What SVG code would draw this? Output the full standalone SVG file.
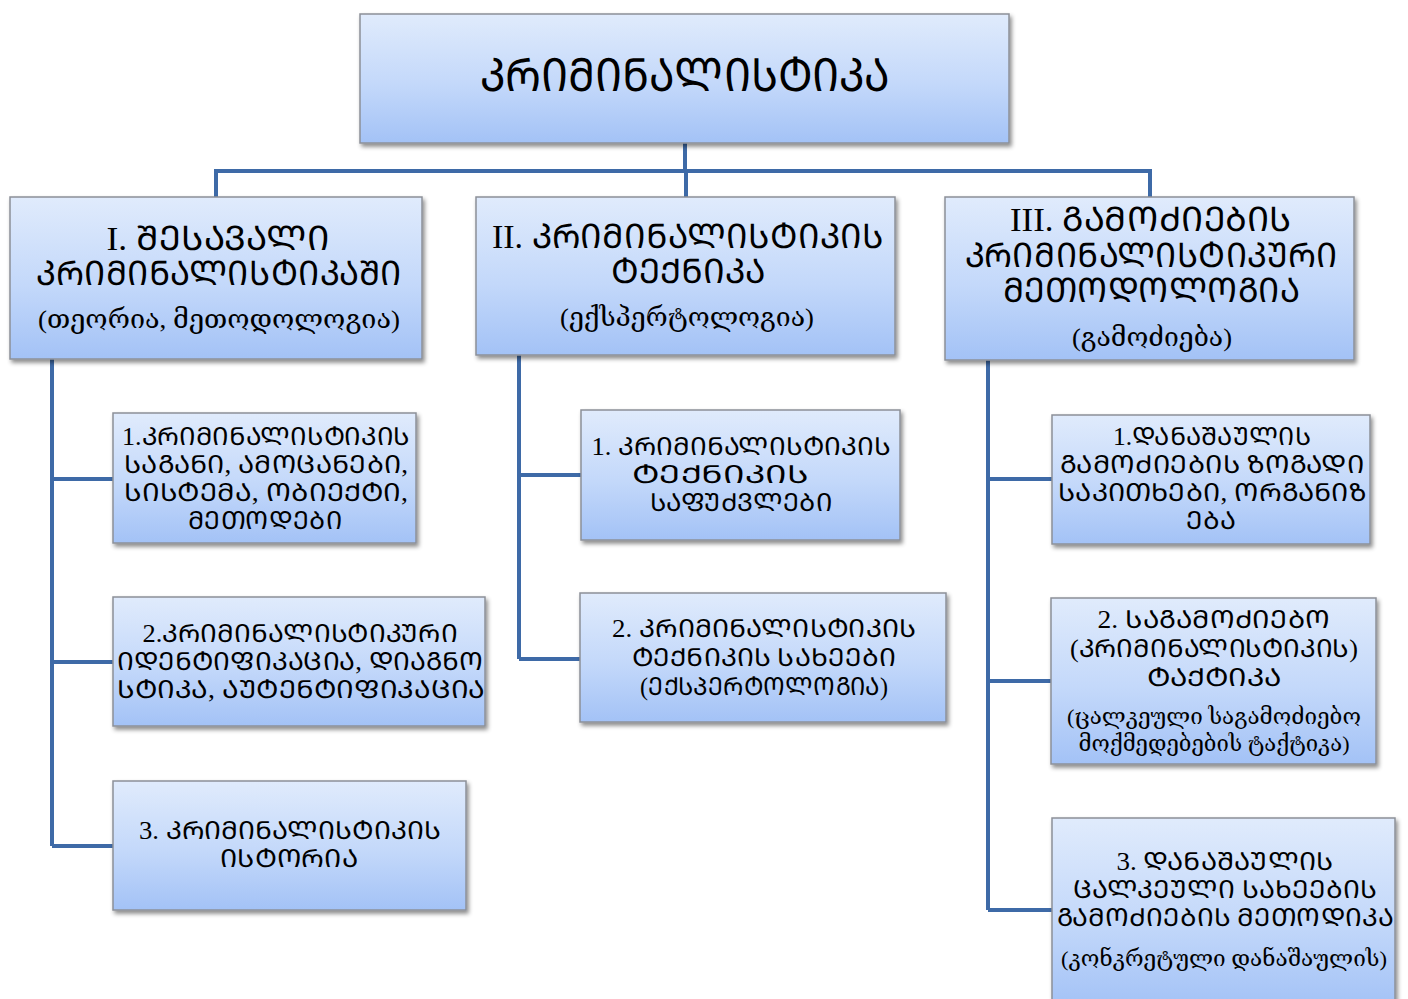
<svg xmlns="http://www.w3.org/2000/svg" width="1408" height="999" viewBox="0 0 1408 999">
<defs>
<linearGradient id="g" x1="0" y1="0" x2="0" y2="1">
<stop offset="0" stop-color="#e0ebfc"/>
<stop offset="0.55" stop-color="#c3d8fa"/>
<stop offset="1" stop-color="#a3c2f6"/>
</linearGradient>
<filter id="sh" x="-5%" y="-5%" width="112%" height="115%">
<feDropShadow dx="2" dy="3" stdDeviation="2" flood-color="#000" flood-opacity="0.45"/>
</filter>
</defs>
<style>
.box{fill:url(#g);stroke:#8c9098;stroke-width:1.5;filter:url(#sh)}
.c{fill:none;stroke:#3e6aa7;stroke-width:4}
text{font-family:"Liberation Serif","DejaVu Serif","DejaVu Sans",serif;fill:#000;text-anchor:middle}
.t0{font-size:46px}
.h{font-size:34px}
.s{font-size:26px}
.n{font-size:25px}
.m{font-size:22px}
</style>
<rect width="1408" height="999" fill="#fff"/>
<g id="connectors">
<path class="c" d="M685 143V171M216 197V171H1150V197M686 171V197"/>
<path class="c" d="M52 359V846M52 479H113M52 662H113M52 846H113"/>
<path class="c" d="M519 355V659M519 475H581M519 659H580"/>
<path class="c" d="M988 360V910M988 479H1052M988 681H1051M988 910H1052"/>
</g>
<g id="root">
<rect class="box" x="360" y="14" width="649" height="129"/>
<text class="t0" x="685" y="91" textLength="410" lengthAdjust="spacingAndGlyphs">ᲙᲠᲘᲛᲘᲜᲐᲚᲘᲡᲢᲘᲙᲐ</text>
</g>
<g id="n1">
<rect class="box" x="10" y="197" width="412" height="162"/>
<text class="h" x="218" y="250" textLength="223" lengthAdjust="spacingAndGlyphs">I. ᲨᲔᲡᲐᲕᲐᲚᲘ</text>
<text class="h" x="219" y="285" textLength="366" lengthAdjust="spacingAndGlyphs">ᲙᲠᲘᲛᲘᲜᲐᲚᲘᲡᲢᲘᲙᲐᲨᲘ</text>
<text class="s" x="219" y="328" textLength="362" lengthAdjust="spacingAndGlyphs">(თეორია, მეთოდოლოგია)</text>
</g>
<g id="n2">
<rect class="box" x="476" y="197" width="419" height="158"/>
<text class="h" x="688" y="248" textLength="392" lengthAdjust="spacingAndGlyphs">II. ᲙᲠᲘᲛᲘᲜᲐᲚᲘᲡᲢᲘᲙᲘᲡ</text>
<text class="h" x="688" y="283" textLength="155" lengthAdjust="spacingAndGlyphs">ᲢᲔᲥᲜᲘᲙᲐ</text>
<text class="s" x="687" y="326" textLength="254" lengthAdjust="spacingAndGlyphs">(ექსპერტოლოგია)</text>
</g>
<g id="n3">
<rect class="box" x="945" y="197" width="409" height="163"/>
<text class="h" x="1151" y="231" textLength="282" lengthAdjust="spacingAndGlyphs">III. ᲒᲐᲛᲝᲫᲘᲔᲑᲘᲡ</text>
<text class="h" x="1151" y="267" textLength="373" lengthAdjust="spacingAndGlyphs">ᲙᲠᲘᲛᲘᲜᲐᲚᲘᲡᲢᲘᲙᲣᲠᲘ</text>
<text class="h" x="1151" y="302" textLength="297" lengthAdjust="spacingAndGlyphs">ᲛᲔᲗᲝᲓᲝᲚᲝᲒᲘᲐ</text>
<text class="s" x="1152" y="346" textLength="160" lengthAdjust="spacingAndGlyphs">(გამოძიება)</text>
</g>
<g id="n1a">
<rect class="box" x="113" y="413" width="303" height="130"/>
<text class="n" x="266" y="445" textLength="288" lengthAdjust="spacingAndGlyphs">1.ᲙᲠᲘᲛᲘᲜᲐᲚᲘᲡᲢᲘᲙᲘᲡ</text>
<text class="n" x="266" y="473" textLength="284" lengthAdjust="spacingAndGlyphs">ᲡᲐᲒᲐᲜᲘ, ᲐᲛᲝᲪᲐᲜᲔᲑᲘ,</text>
<text class="n" x="266" y="501" textLength="284" lengthAdjust="spacingAndGlyphs">ᲡᲘᲡᲢᲔᲛᲐ, ᲝᲑᲘᲔᲥᲢᲘ,</text>
<text class="n" x="265" y="529" textLength="154" lengthAdjust="spacingAndGlyphs">ᲛᲔᲗᲝᲓᲔᲑᲘ</text>
</g>
<g id="n1b">
<rect class="box" x="113" y="597" width="372" height="129"/>
<text class="n" x="300" y="642" textLength="315" lengthAdjust="spacingAndGlyphs">2.ᲙᲠᲘᲛᲘᲜᲐᲚᲘᲡᲢᲘᲙᲣᲠᲘ</text>
<text class="n" x="300" y="670" textLength="366" lengthAdjust="spacingAndGlyphs">ᲘᲓᲔᲜᲢᲘᲤᲘᲙᲐᲪᲘᲐ, ᲓᲘᲐᲒᲜᲝ</text>
<text class="n" x="301" y="698" textLength="368" lengthAdjust="spacingAndGlyphs">ᲡᲢᲘᲙᲐ, ᲐᲣᲢᲔᲜᲢᲘᲤᲘᲙᲐᲪᲘᲐ</text>
</g>
<g id="n1c">
<rect class="box" x="113" y="781" width="353" height="129"/>
<text class="n" x="290" y="839" textLength="302" lengthAdjust="spacingAndGlyphs">3. ᲙᲠᲘᲛᲘᲜᲐᲚᲘᲡᲢᲘᲙᲘᲡ</text>
<text class="n" x="289" y="867" textLength="138" lengthAdjust="spacingAndGlyphs">ᲘᲡᲢᲝᲠᲘᲐ</text>
</g>
<g id="n2a">
<rect class="box" x="581" y="410" width="319" height="130"/>
<text class="n" x="741" y="455" textLength="299" lengthAdjust="spacingAndGlyphs">1. ᲙᲠᲘᲛᲘᲜᲐᲚᲘᲡᲢᲘᲙᲘᲡ</text>
<text class="n" x="720" y="483" textLength="177" lengthAdjust="spacingAndGlyphs">ᲢᲔᲥᲜᲘᲙᲘᲡ</text>
<text class="n" x="741" y="511" textLength="183" lengthAdjust="spacingAndGlyphs">ᲡᲐᲤᲣᲫᲕᲚᲔᲑᲘ</text>
</g>
<g id="n2b">
<rect class="box" x="580" y="593" width="366" height="129"/>
<text class="n" x="764" y="637" textLength="304" lengthAdjust="spacingAndGlyphs">2. ᲙᲠᲘᲛᲘᲜᲐᲚᲘᲡᲢᲘᲙᲘᲡ</text>
<text class="n" x="764" y="666" textLength="264" lengthAdjust="spacingAndGlyphs">ᲢᲔᲥᲜᲘᲙᲘᲡ ᲡᲐᲮᲔᲔᲑᲘ</text>
<text class="n" x="764" y="695" textLength="248" lengthAdjust="spacingAndGlyphs">(ᲔᲥᲡᲞᲔᲠᲢᲝᲚᲝᲒᲘᲐ)</text>
</g>
<g id="n3a">
<rect class="box" x="1052" y="415" width="318" height="129"/>
<text class="n" x="1212" y="445" textLength="198" lengthAdjust="spacingAndGlyphs">1.ᲓᲐᲜᲐᲨᲐᲣᲚᲘᲡ</text>
<text class="n" x="1212" y="473" textLength="304" lengthAdjust="spacingAndGlyphs">ᲒᲐᲛᲝᲫᲘᲔᲑᲘᲡ ᲖᲝᲒᲐᲓᲘ</text>
<text class="n" x="1212" y="501" textLength="308" lengthAdjust="spacingAndGlyphs">ᲡᲐᲙᲘᲗᲮᲔᲑᲘ, ᲝᲠᲒᲐᲜᲘᲖ</text>
<text class="n" x="1211" y="529" textLength="50" lengthAdjust="spacingAndGlyphs">ᲔᲑᲐ</text>
</g>
<g id="n3b">
<rect class="box" x="1051" y="598" width="325" height="166"/>
<text class="n" x="1214" y="628" textLength="233" lengthAdjust="spacingAndGlyphs">2. ᲡᲐᲒᲐᲛᲝᲫᲘᲔᲑᲝ</text>
<text class="n" x="1214" y="657" textLength="288" lengthAdjust="spacingAndGlyphs">(ᲙᲠᲘᲛᲘᲜᲐᲚᲘᲡᲢᲘᲙᲘᲡ)</text>
<text class="n" x="1214" y="686" textLength="135" lengthAdjust="spacingAndGlyphs">ᲢᲐᲥᲢᲘᲙᲐ</text>
<text class="m" x="1214" y="724" textLength="294" lengthAdjust="spacingAndGlyphs">(ცალკეული საგამოძიებო</text>
<text class="m" x="1214" y="751" textLength="271" lengthAdjust="spacingAndGlyphs">მოქმედებების ტაქტიკა)</text>
</g>
<g id="n3c">
<rect class="box" x="1052" y="818" width="343" height="190"/>
<text class="n" x="1225" y="870" textLength="217" lengthAdjust="spacingAndGlyphs">3. ᲓᲐᲜᲐᲨᲐᲣᲚᲘᲡ</text>
<text class="n" x="1225" y="898" textLength="304" lengthAdjust="spacingAndGlyphs">ᲪᲐᲚᲙᲔᲣᲚᲘ ᲡᲐᲮᲔᲔᲑᲘᲡ</text>
<text class="n" x="1225" y="926" textLength="337" lengthAdjust="spacingAndGlyphs">ᲒᲐᲛᲝᲫᲘᲔᲑᲘᲡ ᲛᲔᲗᲝᲓᲘᲙᲐ</text>
<text class="m" x="1224" y="966" textLength="326" lengthAdjust="spacingAndGlyphs">(კონკრეტული დანაშაულის)</text>
</g>
</svg>
